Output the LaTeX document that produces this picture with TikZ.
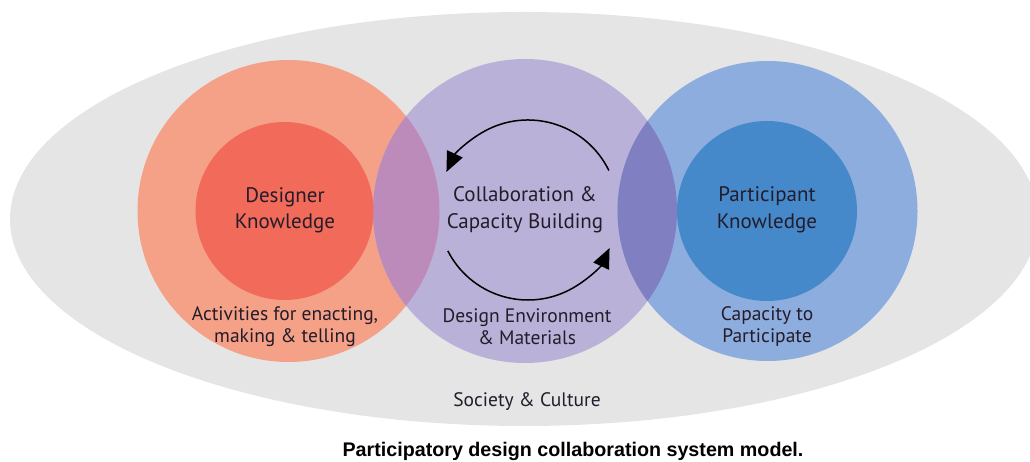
\documentclass[tikz,border=0pt]{standalone}
\usepackage{fontspec}
\setmainfont{PT Sans}
\newfontfamily\captionfont{Liberation Sans}
\usetikzlibrary{arrows.meta,shapes.geometric}

\definecolor{societygray}{HTML}{E5E5E5}
\definecolor{designerout}{HTML}{F4A187}
\definecolor{designerin}{HTML}{F26A5A}
\definecolor{collabfill}{HTML}{BAB1D8}
\definecolor{redlilac}{HTML}{BD8BB9}
\definecolor{bluelilac}{HTML}{7F7FC1}
\definecolor{participantout}{HTML}{8CADDD}
\definecolor{participantin}{HTML}{4589CB}
\definecolor{labelink}{HTML}{241C2A}

\begin{document}
\begin{tikzpicture}[x=1pt,y=1pt,
  disc/.style={circle, draw=none, inner sep=0pt, minimum size=#1},
  headlabel/.style={font=\fontsize{21}{26.5}\selectfont, text=labelink, align=center, inner sep=0pt},
  sublabel/.style={font=\fontsize{19.5}{21.5}\selectfont, text=labelink, align=center, inner sep=0pt},
  cycle/.style={line width=1.5pt, -{Triangle[length=20pt,width=17pt]}}
]
\useasboundingbox (0,0) rectangle (1030,462);
\clip (0,0) rectangle (1030,462);

% Society & Culture backdrop
\node[ellipse, draw=none, fill=societygray, inner sep=0pt,
      minimum width=1028pt, minimum height=414pt] (society) at (524,243) {};

% three outer spheres
\node[disc=302pt, fill=designerout]    (designer)    at (288.5,251) {};
\node[disc=304pt, fill=collabfill]     (collab)      at (525,251)   {};
\node[disc=300pt, fill=participantout] (participant) at (767.5,251) {};

% overlaps of the spheres
\begin{scope}
  \clip (designer.center) circle (151pt);
  \fill[redlilac] (collab.center) circle (152pt);
\end{scope}
\begin{scope}
  \clip (participant.center) circle (150pt);
  \fill[bluelilac] (collab.center) circle (152pt);
\end{scope}

% knowledge cores
\node[disc=178pt, fill=designerin]    (designercore)    at (284.5,251) {};
\node[disc=180pt, fill=participantin] (participantcore) at (767,251)   {};

% collaboration cycle
\coordinate (cyc) at (528,252);
\draw[cycle] ([shift={(26:90pt)}]cyc) arc[start angle=26, end angle=155, radius=90pt];
\draw[cycle] ([shift={(207:90pt)}]cyc) arc[start angle=207, end angle=335, radius=90pt];

% labels
\node[headlabel] (dklabel) at (285,251.5) {Designer\\Knowledge};
\node[headlabel] (cblabel) at (525,252)   {Collaboration \&\\Capacity Building};
\node[headlabel] (pklabel) at (767,252)   {Participant\\Knowledge};

\node[sublabel] (actlabel) at (285,135.5) {Activities for enacting,\\making \& telling};
\node[sublabel] (envlabel) at (527,135.5) {Design Environment\\\& Materials};
\node[sublabel] (caplabel) at (767,135.5) {Capacity to\\Participate};

\node[sublabel] (sclabel) at (527,60) {Society \& Culture};

\node[font=\captionfont\bfseries\fontsize{19.7}{22}\selectfont, text=black, inner sep=0pt]
  (caption) at (573,11) {Participatory design collaboration system model.};
\end{tikzpicture}
\end{document}
